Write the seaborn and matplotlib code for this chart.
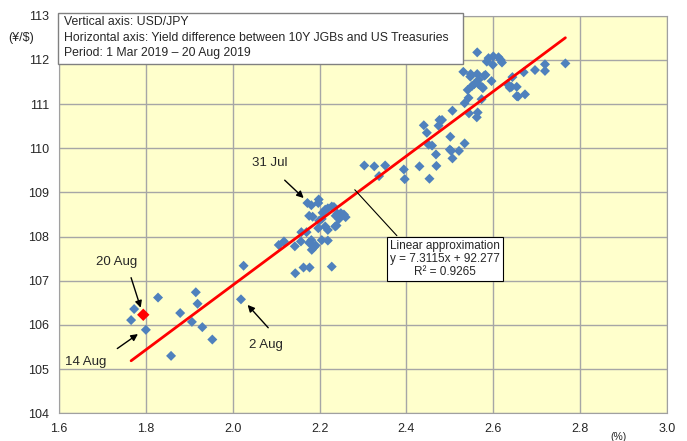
import pandas as pd
import matplotlib
matplotlib.use("Agg")
import matplotlib.pyplot as plt
from matplotlib.patches import Rectangle
import seaborn as sns

# yield difference (%) and USD/JPY
yield_diff = [
    1.828, 1.773, 1.766, 1.800, 1.879, 1.915, 1.919, 1.906, 1.930, 1.953, 1.858, 2.025, 2.019,
    2.106, 2.118, 2.144, 2.163, 2.177, 2.228, 2.143, 2.157, 2.158, 2.170, 2.181, 2.176, 2.187,
    2.191, 2.182, 2.197, 2.205, 2.219, 2.213, 2.219, 2.172, 2.181, 2.198, 2.197, 2.176, 2.184,
    2.207, 2.213, 2.219, 2.228, 2.233, 2.199, 2.205, 2.237, 2.241, 2.249, 2.256, 2.260, 2.245,
    2.239, 2.236,
    2.303, 2.326, 2.351, 2.337, 2.394, 2.396, 2.430, 2.453, 2.469, 2.468, 2.506, 2.500, 2.503,
    2.521, 2.534, 2.501, 2.451, 2.459, 2.447, 2.440, 2.474, 2.476, 2.482, 2.506, 2.544, 2.564,
    2.562, 2.534, 2.543, 2.573,
    2.541, 2.551, 2.556, 2.566, 2.566, 2.575, 2.547, 2.548, 2.563, 2.579, 2.531, 2.596, 2.585,
    2.589, 2.600, 2.599, 2.612, 2.617, 2.620, 2.633, 2.638, 2.642, 2.654, 2.644, 2.654, 2.657,
    2.673, 2.670, 2.696, 2.719, 2.719, 2.766, 2.563, 2.576, 2.582,
]
usdjpy = [
    106.62, 106.36, 106.11, 105.89, 106.27, 106.74, 106.48, 106.07, 105.95, 105.67, 105.30, 107.34, 106.58,
    107.81, 107.89, 107.17, 107.30, 107.30, 107.32, 107.78, 107.89, 108.10, 108.10, 107.92, 107.86, 107.76,
    107.80, 107.70, 108.19, 107.92, 107.91, 108.23, 108.15, 108.76, 108.71, 108.84, 108.76, 108.47, 108.45,
    108.54, 108.61, 108.64, 108.68, 108.67, 108.36, 108.40, 108.47, 108.52, 108.53, 108.50, 108.44, 108.40,
    108.25, 108.23,
    109.61, 109.59, 109.61, 109.37, 109.52, 109.30, 109.59, 109.31, 109.60, 109.86, 109.77, 109.97, 109.94,
    109.94, 110.11, 110.26, 110.08, 110.06, 110.35, 110.52, 110.51, 110.64, 110.64, 110.85, 110.79, 110.81,
    110.70, 111.02, 111.14, 111.11,
    111.32, 111.41, 111.45, 111.45, 111.55, 111.38, 111.62, 111.68, 111.68, 111.64, 111.73, 111.52, 111.96,
    112.04, 112.08, 111.89, 112.06, 112.00, 111.94, 111.45, 111.37, 111.39, 111.39, 111.61, 111.18, 111.17,
    111.22, 111.72, 111.77, 111.90, 111.75, 111.92, 112.17, 111.36, 111.66,
]
latest_x = [1.794]   # 20 Aug
latest_y = [106.23]

slope = 7.3115
intercept = 92.277

x_ticks = [1.6, 1.8, 2.0, 2.2, 2.4, 2.6, 2.8, 3.0]
y_ticks = [104, 105, 106, 107, 108, 109, 110, 111, 112, 113]

df = pd.DataFrame({"diff": yield_diff, "usdjpy": usdjpy})
df_last = pd.DataFrame({"diff": latest_x, "usdjpy": latest_y})

sns.set_style("white")
plt.rcParams["font.family"] = ["Liberation Sans", "DejaVu Sans"]

fig = plt.figure(figsize=(6.87, 4.41), dpi=100)
ax = fig.add_axes([0.0859, 0.0628, 0.885, 0.9016])
ax.set_facecolor("#FFFFCC")

sns.scatterplot(data=df, x="diff", y="usdjpy", marker="D", s=26, color="#4F81BD",
                edgecolor="none", ax=ax, zorder=3)
sns.scatterplot(data=df_last, x="diff", y="usdjpy", marker="D", s=40, color="#FF0000",
                edgecolor="none", ax=ax, zorder=4)

x0, x1 = min(yield_diff), max(yield_diff)
ax.plot([x0, x1], [slope * x0 + intercept, slope * x1 + intercept], color="#FF0000", lw=2, zorder=3)

ax.set_xlim(1.6, 3.0)
ax.set_ylim(104, 113)
ax.set_xticks(x_ticks)
ax.set_xticklabels([f"{t:.1f}" for t in x_ticks])
ax.set_yticks(y_ticks)
ax.grid(True, color="#A6A6A6", lw=1)
ax.set_axisbelow(True)
for s in ax.spines.values():
    s.set_color("#A0A0A0")
ax.tick_params(axis="both", direction="out", length=4, color="#808080", labelsize=9, pad=3)
ax.set_xlabel("")
ax.set_ylabel("")

ax.text(-0.062, 0.944, "(¥/$)", transform=ax.transAxes, fontsize=9, ha="center", va="center")
ax.text(0.921, -0.059, "(%)", transform=ax.transAxes, fontsize=7.5, ha="center", va="center")

# description box at top left
ax.add_patch(Rectangle((-0.002, 0.878), 0.666, 0.129, transform=ax.transAxes,
                       fc="white", ec="#808080", lw=1, zorder=5, clip_on=False))
ax.text(0.009, 0.998,
        "Vertical axis: USD/JPY\n"
        "Horizontal axis: Yield difference between 10Y JGBs and US Treasuries\n"
        "Period: 1 Mar 2019 \u2013 20 Aug 2019",
        transform=ax.transAxes, fontsize=8.85, ha="left", va="top", linespacing=1.35, zorder=6)

# leader line and regression box
ax.plot([2.378, 2.281], [108.02, 109.06], color="black", lw=0.8, zorder=4)
ax.text(2.488, 107.49, "Linear approximation\ny = 7.3115x + 92.277\nR\u00b2 = 0.9265",
        fontsize=8.5, ha="center", va="center", linespacing=1.15,
        bbox=dict(boxstyle="square,pad=0.25", fc="white", ec="black", lw=0.8), zorder=5)

arrow = dict(arrowstyle="-|>", color="black", lw=1, mutation_scale=10)
notes = [
    ("31 Jul", (2.086, 109.67), (2.115, 109.32), (2.168, 108.83)),
    ("20 Aug", (1.733, 107.43), (1.764, 107.13), (1.790, 106.33)),
    ("14 Aug", (1.662, 105.16), (1.729, 105.43), (1.787, 105.83)),
    ("2 Aug", (2.076, 105.55), (2.086, 105.89), (2.030, 106.50)),
]
for label, txt, start, tip in notes:
    ax.text(txt[0], txt[1], label, fontsize=9.5, ha="center", va="center", zorder=5)
    ax.annotate("", xy=tip, xytext=start, arrowprops=arrow, zorder=5)

fig.savefig("out.png", dpi=100)
